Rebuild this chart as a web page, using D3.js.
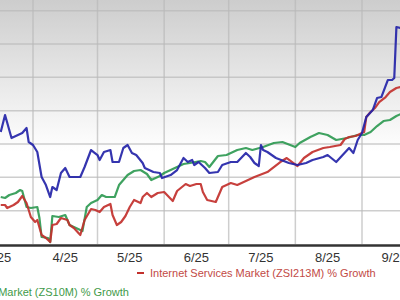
<!DOCTYPE html>
<html>
<head>
<meta charset="utf-8">
<script src="https://cdn.jsdelivr.net/npm/d3@7"></script>
<style>
  html, body { margin: 0; padding: 0; background: #fff; }
  svg { display: block; font-family: "Liberation Sans", Arial, sans-serif; }
</style>
</head>
<body>
<svg id="chart" width="400" height="300"></svg>
<script>
// % growth
const stockDates = ['03-17','03-19','03-22','03-25','03-27','03-29','03-30','04-01','04-03','04-05','04-07','04-09','04-10','04-12','04-14','04-16','04-18','04-23','04-25','04-28','05-01','05-02','05-04','05-07','05-08','05-11','05-13','05-15','05-17','05-19','05-22','05-23','05-27','05-30','05-31','06-04','06-07','06-10','06-12','06-14','06-15','06-17','06-20','06-22','06-26','06-28','07-02','07-05','07-09','07-11','07-13','07-15','07-16','07-17','07-19','07-23','07-29','08-02','08-06','08-09','08-14','08-16','08-20','08-23','08-26','08-28','08-30','09-01','09-03','09-06','09-08','09-10','09-13','09-15','09-16','09-17','09-19']
const stockValues = [13.6,18.7,11.8,12.7,13.3,14.8,10.6,9.7,7.6,0.1,-2.3,-5.9,-2.9,-3.8,1.3,2.8,0.1,0.1,3.1,8.2,6.7,5.2,7.6,8.2,4.6,4.6,8.8,9.7,7.3,6.7,4.3,2.8,1.6,1.3,-0.2,0.7,2.2,5.8,4.6,5.2,3.7,4.6,2.8,1.3,1.6,3.7,4.6,4.6,7.3,6.1,4.3,3.4,9.7,8.2,7.6,5.8,4.3,3.7,4.3,5.2,6.1,6.7,4.6,6.7,8.8,7.3,11.2,13.3,18.1,20.2,23.8,24.1,29.2,29.2,29.8,45.1,44.8]

const industryDates = ['03-17','03-19','03-20','03-23','03-25','03-27','03-29','03-31','04-02','04-03','04-05','04-07','04-09','04-10','04-12','04-14','04-17','04-18','04-20','04-23','04-25','04-28','04-30','05-02','05-04','05-07','05-08','05-10','05-12','05-14','05-16','05-18','05-21','05-22','05-24','05-26','05-29','06-01','06-05','06-07','06-11','06-13','06-16','06-18','06-19','06-21','06-25','06-28','07-02','07-05','07-10','07-13','07-19','07-25','07-28','08-02','08-05','08-09','08-14','08-17','08-22','08-24','08-26','08-29','09-02','09-03','09-05','09-07','09-09','09-12','09-14','09-17','09-19']
const industryValues = [-8.3,-8.3,-9.2,-8.3,-7.4,-5.6,-7.7,-11.9,-13.4,-12.8,-17.3,-18.2,-19.4,-14.3,-14.0,-12.2,-12.8,-14.3,-15.2,-17.3,-12.8,-9.5,-9.8,-10.4,-8.9,-8.0,-11.3,-14.3,-13.4,-11.6,-8.9,-6.8,-7.7,-5.9,-4.7,-5.9,-4.7,-4.4,-7.1,-4.1,-2.0,-2.6,-2.0,-2.0,-4.4,-6.8,-7.4,-2.9,-1.7,-2.3,-0.8,0.1,1.6,4.6,5.8,3.4,5.8,7.6,8.8,9.1,9.7,11.5,12.1,12.4,13.6,18.1,19.6,20.8,22.6,24.1,25.6,26.8,27.1]

const sectorDates = ['03-17','03-19','03-21','03-24','03-26','03-27','03-29','03-31','04-03','04-04','04-05','04-08','04-09','04-10','04-13','04-16','04-18','04-21','04-24','04-26','04-28','05-01','05-03','05-05','05-09','05-11','05-15','05-18','05-21','05-24','05-26','05-30','06-01','06-05','06-10','06-13','06-18','06-20','06-22','06-26','06-30','07-05','07-09','07-12','07-17','07-22','07-26','08-01','08-03','08-08','08-12','08-16','08-20','08-25','08-30','09-02','09-05','09-08','09-11','09-14','09-17','09-19']
const sectorValues = [-5.9,-6.2,-5.3,-4.7,-3.8,-4.1,-8.9,-9.2,-8.9,-12.2,-17.9,-18.2,-19.4,-11.6,-11.9,-11.3,-14.3,-15.2,-16.1,-8.9,-7.7,-6.8,-5.3,-5.9,-5.9,-2.3,0.7,1.9,2.2,1.0,-0.8,0.4,1.3,2.5,4.0,4.3,4.9,4.6,3.1,6.4,6.7,8.2,8.8,8.2,9.1,10.3,10.6,9.1,10.3,12.1,13.3,12.7,11.2,11.8,12.7,12.7,13.6,15.4,16.9,17.2,18.4,19.0]

const monthTicks = ['03-01','04-01','05-01','06-01','07-01','08-01','09-01','10-01']
const labelDates = ['03-16','04-16','05-16','06-16','07-16','08-16','09-16']
const yGrid = [-10, 0, 10, 20, 30, 40, 50]

const industryLabel = 'Internet Services Market (ZSI213M) % Growth'
const sectorLabel = 'Market (ZS10M) % Growth'

const width = 400
const height = 300
const parse = s => d3.timeParse('%Y-%m-%d')('2025-' + s)

const svg = d3.select('#chart')

let x = d3.scaleTime()
    .domain([parse('04-01'), parse('09-01')])
    .range([33, 362])

let y = d3.scaleLinear()
    .domain([-20, 50])
    .range([244, 10.7])

// background gradient
let grad = svg.append('defs').append('linearGradient')
    .attr('id', 'bg')
    .attr('x1', 0).attr('y1', 0).attr('x2', 0).attr('y2', 1)
grad.append('stop').attr('offset', '0%').attr('stop-color', '#cdcdcd')
grad.append('stop').attr('offset', '62%').attr('stop-color', '#ffffff')
grad.append('stop').attr('offset', '100%').attr('stop-color', '#ffffff')

svg.append('rect')
    .attr('x', 0).attr('y', 0)
    .attr('width', width).attr('height', y(-20))
    .attr('fill', 'url(#bg)')

// grid
let gridG = svg.append('g')
gridG.selectAll('.vgrid')
    .data(monthTicks.map(parse))
    .enter().append('line')
    .attr('class', 'vgrid')
    .attr('x1', d => x(d)).attr('x2', d => x(d))
    .attr('y1', 0).attr('y2', y(-20))
    .attr('stroke', '#b9b9b9')
    .attr('stroke-opacity', 0.7)
    .attr('stroke-width', 1.5)

gridG.selectAll('.hgrid')
    .data(yGrid)
    .enter().append('line')
    .attr('class', 'hgrid')
    .attr('x1', 0).attr('x2', width)
    .attr('y1', d => y(d)).attr('y2', d => y(d))
    .attr('stroke', '#b9b9b9')
    .attr('stroke-opacity', 0.7)
    .attr('stroke-width', 1.5)

// lines
let line = d3.line()
    .x(d => x(d[0]))
    .y(d => y(d[1]))

function drawSeries(dates, values, color) {
    let pts = dates.map((d, i) => [parse(d), values[i]])
    svg.append('path')
        .datum(pts)
        .attr('d', line)
        .attr('fill', 'none')
        .attr('stroke', color)
        .attr('stroke-width', 2.2)
        .attr('stroke-linejoin', 'round')
        .attr('stroke-opacity', 0.92)
}

drawSeries(sectorDates, sectorValues, '#2f9a52')
drawSeries(industryDates, industryValues, '#c2302c')
drawSeries(stockDates, stockValues, '#2424a8')

// x axis
svg.append('line')
    .attr('x1', 0).attr('x2', width)
    .attr('y1', y(-20) + 1.5).attr('y2', y(-20) + 1.5)
    .attr('stroke', '#333')
    .attr('stroke-width', 2.5)

const fmt = d3.timeFormat('%-m/%y')
svg.selectAll('.xlabel')
    .data(labelDates.map(parse))
    .enter().append('text')
    .attr('class', 'xlabel')
    .attr('x', d => x(d))
    .attr('y', 262)
    .attr('text-anchor', 'middle')
    .attr('fill', '#333')
    .style('font-size', '13px')
    .text(d => fmt(d))

// legend
svg.append('line')
    .attr('x1', 137).attr('x2', 144)
    .attr('y1', 273).attr('y2', 273)
    .attr('stroke', '#c2302c')
    .attr('stroke-width', 2)

svg.append('text')
    .attr('x', 150).attr('y', 277)
    .attr('fill', '#c24a45')
    .style('font-size', '11px')
    .text(industryLabel)

svg.append('text')
    .attr('x', 129).attr('y', 296)
    .attr('text-anchor', 'end')
    .attr('fill', '#3f9a4a')
    .style('font-size', '11px')
    .text(sectorLabel)
</script>
</body>
</html>
